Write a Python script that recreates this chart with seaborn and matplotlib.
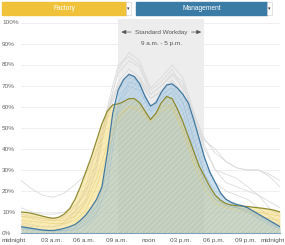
import numpy as np
import pandas as pd
import matplotlib
matplotlib.use("Agg")
import matplotlib.pyplot as plt
import matplotlib.transforms as mtrans
import seaborn as sns

# ---------------- data ----------------
hours = [i * 0.5 for i in range(49)]
factory = [10, 9.8, 9.3, 8.7, 8, 7.4, 7, 7.5, 9, 11.5, 16, 22, 29, 36, 44, 52, 58, 61,
           61.5, 62.5, 64, 64, 62, 58, 54, 57, 62, 65, 64, 59, 53, 46, 39, 32, 27, 22,
           18, 15.5, 14, 13.3, 13, 12.8, 12.6, 12.3, 12, 11.7, 11.3, 10.8, 10]
management = [3, 2.6, 2.2, 1.8, 1.4, 1.2, 1.2, 1.6, 2.2, 3, 4, 6, 8.5, 12, 16, 22, 38, 57,
              68, 73, 75.5, 74.5, 71, 65, 60.5, 62, 67, 70.5, 71, 69, 66, 62, 54, 45, 36, 29,
              24, 19, 16, 14.5, 13.5, 13, 12, 10.5, 9, 7.5, 6, 4.5, 3]

day_hours = list(range(25))
factory_days = {
    "F2": [8, 7.5, 7, 6, 6, 8, 14, 26, 42, 56, 60, 60, 54, 60, 61, 50, 36, 24, 16, 13, 12, 11, 10, 9, 8],
    "F3": [6, 5.5, 5, 4.5, 4.5, 6, 11, 22, 38, 54, 60, 58, 53, 58, 60, 48, 33, 21, 14, 12, 11, 10, 8, 7, 6],
}
management_days = {
    "M2": [2, 1.5, 1.2, 1, 1, 1.5, 4, 9, 22, 58, 70, 68, 58, 64, 67, 58, 40, 24, 16, 13, 12, 10, 7, 4, 2],
    "M3": [2.5, 2, 1.5, 1.2, 1.2, 2.5, 6, 12, 30, 62, 72, 70, 60, 66, 69, 62, 45, 28, 18, 14, 12, 11, 8, 5, 2.5],
}

gray_hours = list(range(25))
others = {
    "Sales":        [25, 21, 18, 17, 19, 23, 28, 38, 56, 72, 78, 74, 66, 70, 75, 70, 57, 45, 38, 34, 31, 30, 30, 28, 25],
    "Office":       [8, 7, 6, 6, 7, 10, 16, 30, 55, 78, 86, 82, 69, 74, 80, 74, 58, 42, 30, 28, 26, 22, 18, 12, 8],
    "Service":      [12, 10, 9, 9, 10, 13, 20, 34, 54, 70, 76, 73, 64, 68, 73, 66, 52, 44, 40, 34, 31, 30, 30, 27, 22],
    "Education":    [5, 4, 3, 3, 4, 8, 15, 32, 60, 80, 84, 80, 68, 72, 78, 68, 48, 32, 24, 20, 18, 16, 12, 8, 5],
    "Healthcare":   [9, 8, 7, 7, 8, 12, 19, 34, 58, 76, 82, 79, 66, 70, 76, 72, 56, 40, 30, 24, 22, 20, 18, 15, 12],
    "Construction": [4, 3, 3, 3, 5, 10, 22, 40, 58, 70, 74, 72, 64, 67, 72, 63, 44, 28, 20, 16, 14, 12, 9, 6, 4],
}

tick_pos = [0, 3, 6, 9, 12, 15, 18, 21, 24]
tick_labels = ["midnight", "03 a.m.", "06 a.m.", "09 a.m.", "noon", "03 p.m.", "06 p.m.", "09 p.m.", "midnight"]
y_ticks = [0, 10, 20, 30, 40, 50, 60, 70, 80, 90, 100]

df = pd.DataFrame({"hour": hours, "Factory": factory, "Management": management})
gdf = pd.DataFrame({"hour": gray_hours, **others}).melt("hour", var_name="job", value_name="pct")
fdf = pd.DataFrame({"hour": day_hours, **factory_days}).melt("hour", var_name="day", value_name="pct")
mdf = pd.DataFrame({"hour": day_hours, **management_days}).melt("hour", var_name="day", value_name="pct")

# ---------------- figure ----------------
sns.set_theme(style="white")
plt.rcParams["font.family"] = ["Liberation Sans", "DejaVu Sans"]
plt.rcParams["hatch.linewidth"] = 0.35

W, H = 285, 245
fig = plt.figure(figsize=(W / 100, H / 100), dpi=100)
fig.patch.set_facecolor("white")

ax = fig.add_axes([21 / W, 12 / H, 259 / W, 214.2 / H])
ax.set_xlim(0, 24)
ax.set_ylim(0, 102)

# workday band
ax.axvspan(9, 17, color="#ededed", zorder=0, lw=0)

# grid
for v in y_ticks:
    ax.axhline(v, color="#ececec", lw=0.6, zorder=0.5)

# other occupations
sns.lineplot(data=gdf, x="hour", y="pct", units="job", estimator=None, color="#d9d9d9",
             lw=0.55, ax=ax, zorder=1, legend=False)

# fills
ax.fill_between(df["hour"], 0, df["Factory"], facecolor="#f3d463", alpha=0.5, lw=0, zorder=2)
ax.fill_between(df["hour"], 0, df["Management"], facecolor="#7fb2d8", alpha=0.42, lw=0, zorder=2)
ax.fill_between(df["hour"], 0, np.maximum(df["Factory"], df["Management"]), facecolor="none",
                edgecolor="#ffffff", alpha=0.45, hatch="//////", lw=0, zorder=2.5)

# individual days inside the bands
sns.lineplot(data=fdf, x="hour", y="pct", units="day", estimator=None, color="#e2c960",
             lw=0.45, alpha=0.6, ax=ax, zorder=2.6, legend=False)
sns.lineplot(data=mdf, x="hour", y="pct", units="day", estimator=None, color="#8fb8d8",
             lw=0.45, alpha=0.6, ax=ax, zorder=2.6, legend=False)

sns.lineplot(data=df, x="hour", y="Factory", color="#8f8a2c", lw=0.9, ax=ax, zorder=3)
sns.lineplot(data=df, x="hour", y="Management", color="#3f78a0", lw=0.9, ax=ax, zorder=3)

# axis styling
for s in ["top", "right", "left"]:
    ax.spines[s].set_visible(False)
ax.spines["bottom"].set_color("#7aa2b8")
ax.spines["bottom"].set_linewidth(0.8)
ax.set_xticks(tick_pos)
ax.set_xticklabels(tick_labels, fontsize=4.6, color="#555555")
ax.tick_params(axis="x", length=2, width=0.5, color="#7aa2b8", pad=1.5)
labels = ax.get_xticklabels()
labels[0].set_transform(labels[0].get_transform() + mtrans.ScaledTranslation(-7 / 100, 0, fig.dpi_scale_trans))
labels[-1].set_ha("right")
labels[-1].set_transform(labels[-1].get_transform() + mtrans.ScaledTranslation(4.5 / 100, 0, fig.dpi_scale_trans))
for lab in labels[1:-1]:
    lab.set_transform(lab.get_transform() + mtrans.ScaledTranslation(-2 / 100, 0, fig.dpi_scale_trans))
ax.set_yticks([])
ax.set_xlabel("")
ax.set_ylabel("")

for v in y_ticks:
    fig.text(2 / W, (12 + v * 2.1) / H, f"{v}%", fontsize=4.6, color="#666666",
             ha="left", va="center")

# workday annotation
ax.text(13, 95.7, "Standard Workday", ha="center", va="center",
        fontsize=4.6, color="#555555", zorder=4)
ax.text(13, 90.2, "9 a.m. - 5 p.m.", ha="center", va="center", fontsize=4.6,
        color="#555555", zorder=4)
arrow_kw = dict(arrowstyle="-|>,head_length=0.22,head_width=0.1", color="#555555", lw=0.5,
                shrinkA=0, shrinkB=0)
ax.annotate("", xy=(9.3, 95.7), xytext=(10.2, 95.7), arrowprops=arrow_kw, zorder=4)
ax.annotate("", xy=(16.7, 95.7), xytext=(15.8, 95.7), arrowprops=arrow_kw, zorder=4)

# dropdown bars
def bar(x0, x1, color, label):
    fig.patches.append(matplotlib.patches.Rectangle((x0 / W, 1 - 15 / H), (x1 - x0) / W, 13 / H,
                                                     transform=fig.transFigure, color=color))
    fig.patches.append(matplotlib.patches.Rectangle((x1 / W, 1 - 15 / H), 5 / W, 13 / H,
                                                     transform=fig.transFigure, facecolor="white",
                                                     edgecolor="#cccccc", lw=0.4))
    fig.text((x1 + 2.5) / W, 1 - 8.5 / H, "\u25be", fontsize=3.5, color="#333333",
             ha="center", va="center", family="DejaVu Sans")
    fig.text((x0 + x1) / 2 / W, 1 - 8.5 / H, label, fontsize=4.8, color="white",
             ha="center", va="center")

bar(2, 126, "#f0c23a", "Factory")
bar(136, 267, "#3b7ca6", "Management")

fig.savefig("out.png", dpi=100)
